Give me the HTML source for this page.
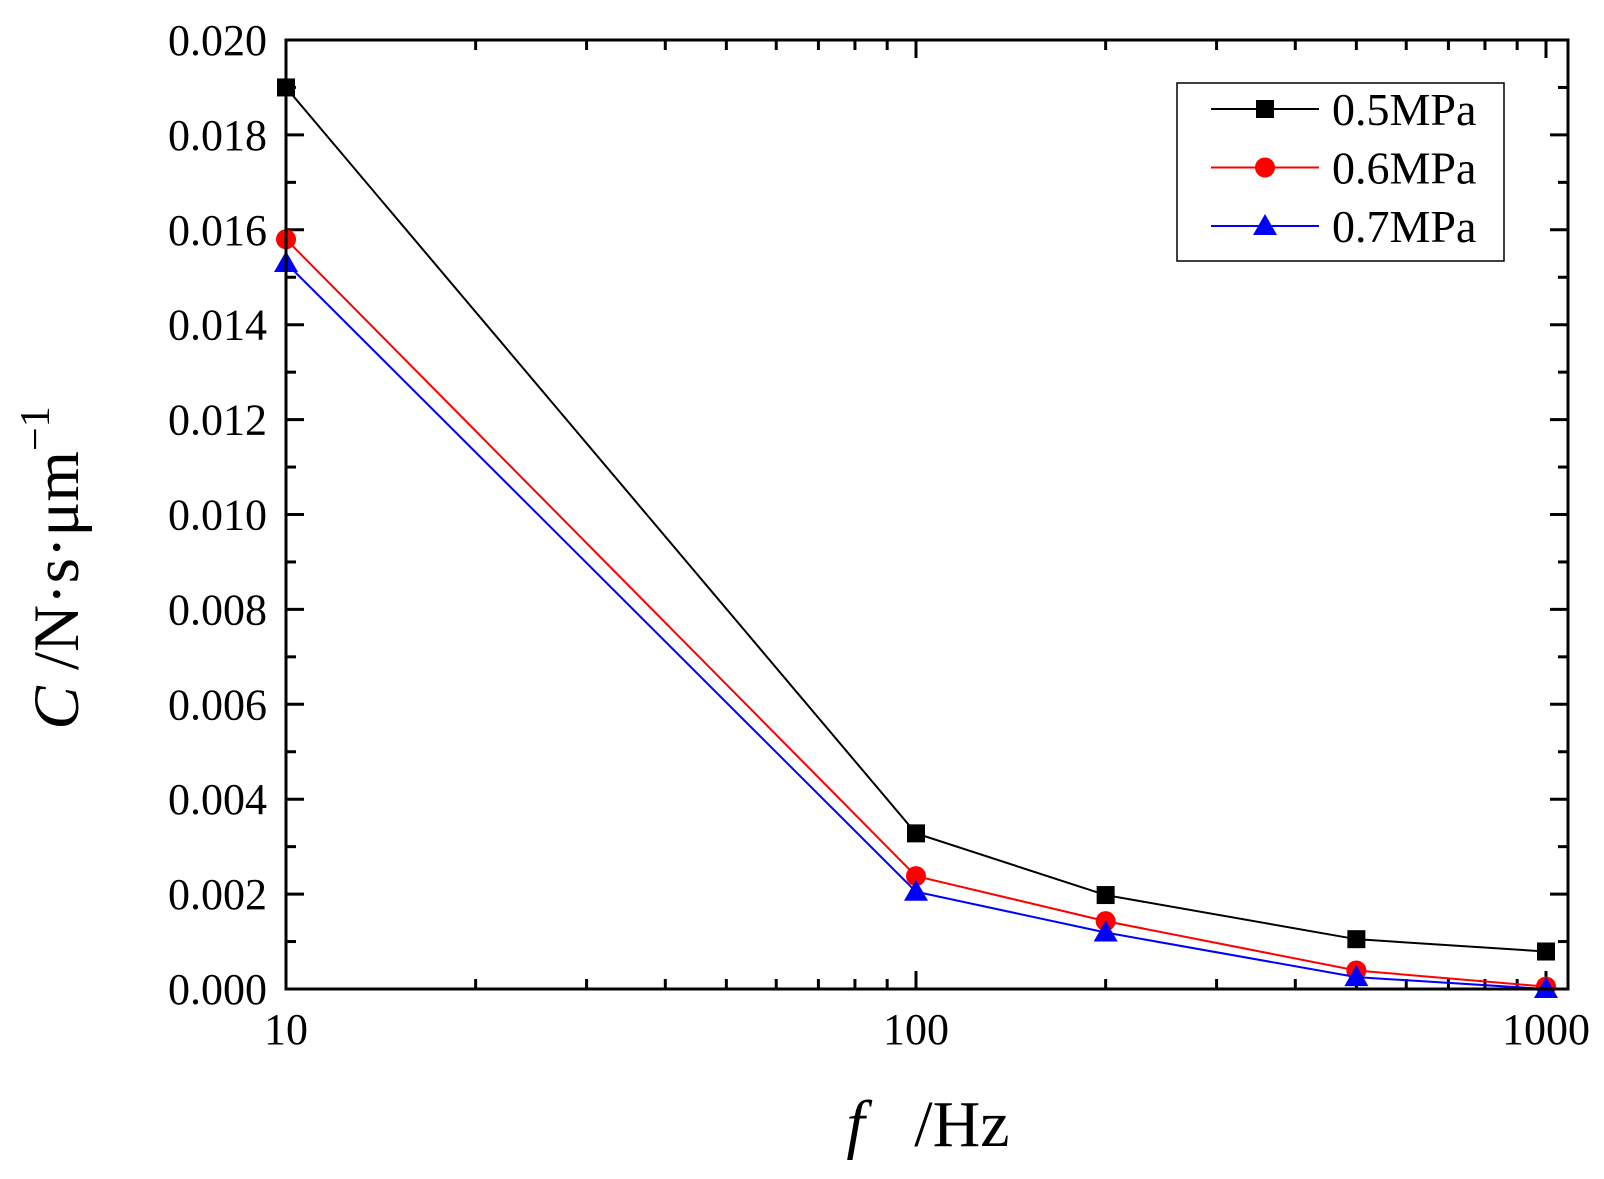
<!DOCTYPE html>
<html><head><meta charset="utf-8"><style>
html,body{margin:0;padding:0;background:#fff;}
svg{display:block;font-family:"Liberation Serif",serif;}
</style></head><body>
<svg id="chart" width="1604" height="1179" viewBox="0 0 1604 1179" xmlns="http://www.w3.org/2000/svg">
<g id="grid-ticks"></g>
<g id="series"></g>
<rect x="286" y="40" width="1282" height="949" fill="none" stroke="#000" stroke-width="3"/>
<g id="labels"></g>
<text x="928" y="1146" font-size="66" text-anchor="middle" xml:space="preserve"><tspan font-style="italic">f</tspan>   /Hz</text>
<text transform="translate(78,568) rotate(-90)" font-size="65" text-anchor="middle"><tspan font-style="italic">C</tspan> /N·s·μm<tspan font-size="42" dy="-29">−1</tspan></text>
<g>
<rect x="1177" y="83" width="327" height="178" fill="#fff" stroke="#000" stroke-width="1.5"/>
<g id="legend-entries"></g>
</g>
</svg>
<script>
const categories = [10, 100, 200, 500, 1000];
const seriesNames = ["0.5MPa", "0.6MPa", "0.7MPa"];
const s05 = [0.0190, 0.00328, 0.00198, 0.00105, 0.00079];
const s06 = [0.0158, 0.00238, 0.00143, 0.00039, 0.00005];
const s07 = [0.0153, 0.00205, 0.00119, 0.00025, 0.0000];
const yTicks = [0, 0.002, 0.004, 0.006, 0.008, 0.010, 0.012, 0.014, 0.016, 0.018, 0.020];
const yTickLabels = ["0.000","0.002","0.004","0.006","0.008","0.010","0.012","0.014","0.016","0.018","0.020"];
const xTicks = [10, 100, 1000];
const xTickLabels = ["10","100","1000"];

const NS = "http://www.w3.org/2000/svg";
const X0 = 286, X1 = 1568, Y0 = 989, Y1 = 40, DEC = 630;
const xs = v => X0 + (Math.log10(v) - 1) * DEC;
const ys = v => Y0 + (Y1 - Y0) * v / 0.020;
function mk(tag, attrs, parent) { const e = document.createElementNS(NS, tag); for (const k in attrs) e.setAttribute(k, attrs[k]); parent.appendChild(e); return e; }

const tg = document.getElementById('grid-ticks');
const lg = document.getElementById('labels');
for (let i = 0; i <= 20; i++) {
  const y = ys(i * 0.001), len = i % 2 === 0 ? 18 : 10;
  const t1 = mk('line', {x1: X0, x2: X0 + len, y1: y, y2: y, stroke: '#000', 'stroke-width': 3}, tg);
  
  
  const t2 = mk('line', {x1: X1, x2: X1 - len, y1: y, y2: y, stroke: '#000', 'stroke-width': 3}, tg);
  
  
}
yTicks.forEach((v, i) => {
  const t = mk('text', {x: 267, y: ys(v) + 15, 'font-size': 44, 'text-anchor': 'end'}, lg);
  t.textContent = yTickLabels[i];
  
  
});
for (let d = 10; d < 1000; d *= 10) {
  for (let m = 1; m <= 10; m++) {
    const v = d * m; const x = xs(v); const len = (m === 1 || m === 10) ? 18 : 10;
    const a = mk('line', {x1: x, x2: x, y1: Y0, y2: Y0 - len, stroke: '#000', 'stroke-width': 3}, tg);
    
    
    const b = mk('line', {x1: x, x2: x, y1: Y1, y2: Y1 + len, stroke: '#000', 'stroke-width': 3}, tg);
    
    
  }
}
xTicks.forEach((v, i) => {
  const t = mk('text', {x: xs(v), y: 1044, 'font-size': 44, 'text-anchor': 'middle'}, lg);
  t.textContent = xTickLabels[i];
  
  
});

function marker(kind, x, y, color, parent) {
  let e;
  if (kind === 'sq') e = mk('rect', {x: x - 9, y: y - 9, width: 18, height: 18, fill: color}, parent);
  else if (kind === 'ci') e = mk('circle', {cx: x, cy: y, r: 10, fill: color}, parent);
  else e = mk('polygon', {points: `${x},${y - 12} ${x - 12},${y + 9} ${x + 12},${y + 9}`, fill: color}, parent);
  return e;
}
const sg = document.getElementById('series');
const all = [[s05, '#000', 'sq'], [s06, '#f00', 'ci'], [s07, '#00f', 'tr']];
all.forEach(([vals, col, kind], si) => {
  const g = mk('g', {}, sg);
  
  
  const pts = vals.map((v, i) => xs(categories[i]) + ',' + ys(v)).join(' ');
  const pl = mk('polyline', {points: pts, fill: 'none', stroke: col, 'stroke-width': 2}, g);
  
  
  vals.forEach((v, i) => {
    const m = marker(kind, xs(categories[i]), ys(v), col, g);
    
    
  });
});
const le = document.getElementById('legend-entries');
[['#000','sq'],['#f00','ci'],['#00f','tr']].forEach(([col, kind], i) => {
  const y = 109 + i * 58.5;
  const g = mk('g', {}, le);
  
  
  mk('line', {x1: 1211, x2: 1319, y1: y, y2: y, stroke: col, 'stroke-width': 2}, g);
  marker(kind, 1265, y, col, g);
  const t = mk('text', {x: 1332, y: y + 16, 'font-size': 46}, g);
  t.textContent = seriesNames[i];
});
</script>
</body></html>
